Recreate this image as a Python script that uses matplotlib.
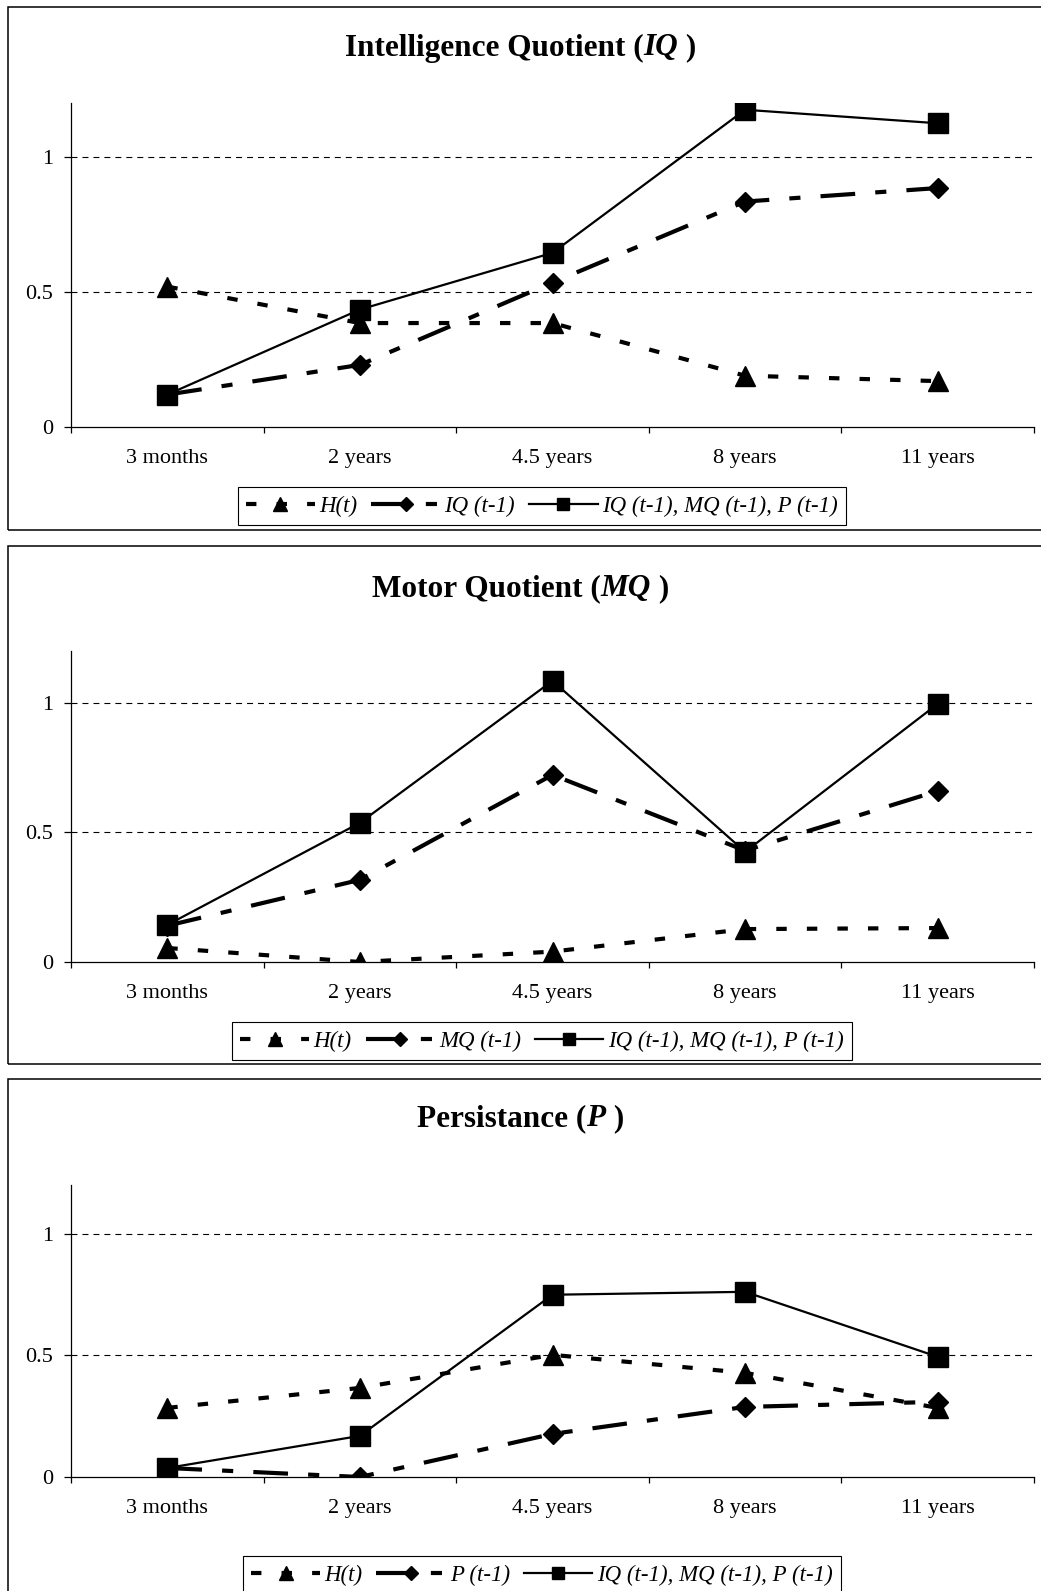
import matplotlib
matplotlib.use("Agg")
import matplotlib.pyplot as plt
from matplotlib.patches import Rectangle
from matplotlib.lines import Line2D
from matplotlib.font_manager import FontProperties

# -----------------------------
# DADOS
# -----------------------------
categories = ["3 months", "2 years", "4.5 years", "8 years", "11 years"]

iq_h = [0.52, 0.385, 0.385, 0.19, 0.17]
iq_lag = [0.12, 0.23, 0.535, 0.835, 0.885]
iq_full = [0.12, 0.435, 0.645, 1.175, 1.125]

mq_h = [0.054, 0.0, 0.04, 0.127, 0.131]
mq_lag = [0.14, 0.317, 0.722, 0.43, 0.66]
mq_full = [0.143, 0.537, 1.085, 0.425, 0.996]

p_h = [0.284, 0.366, 0.502, 0.428, 0.284]
p_lag = [0.037, 0.0, 0.177, 0.288, 0.309]
p_full = [0.037, 0.169, 0.749, 0.761, 0.494]

y_ticks = [0, 0.5, 1]
y_tick_labels = ["0", "0.5", "1"]

lbl_h = "H(t)"
lbl_full = "IQ (t-1), MQ (t-1), P (t-1)"

# -----------------------------
# ESTILO
# -----------------------------
plt.rcParams["font.family"] = ["Liberation Serif", "DejaVu Serif"]
plt.rcParams["lines.scale_dashes"] = False

W, H = 1041, 1591
fig = plt.figure(figsize=(W / 100, H / 100), dpi=100)
fig.patch.set_facecolor("white")

dash_h = (0, (7.5, 14.5))
dash_lag = (0, (25, 14.5, 8, 14.5))
legend_font = FontProperties(family="Liberation Serif", style="italic", size=16.5)


def fx(px):
    return px / W


def fy(px):
    return 1 - px / H


def painel(box_top, box_bot, title_y, ax_top, ax_bot, leg_y,
           title_parts, h, lag, full, lag_label):
    # moldura do painel
    fig.add_artist(Rectangle((fx(8), fy(box_bot)), fx(1100), fy(box_top) - fy(box_bot),
                             transform=fig.transFigure, fill=False,
                             edgecolor="black", linewidth=1.1, clip_on=False))

    ax = fig.add_axes([fx(71), fy(ax_bot), fx(1034) - fx(71), fy(ax_top) - fy(ax_bot)])
    x = list(range(len(categories)))

    ax.axhline(0.5, color="black", linewidth=0.8, linestyle=(0, (4.3, 3.6)), zorder=1)
    ax.axhline(1.0, color="black", linewidth=0.8, linestyle=(0, (4.3, 3.6)), zorder=1)

    ax.plot(x, h, color="black", linewidth=3.0, linestyle=dash_h,
            marker="^", markersize=15, zorder=3)
    ax.plot(x, lag, color="black", linewidth=3.0, linestyle=dash_lag,
            marker="D", markersize=10.5, zorder=4)
    ax.plot(x, full, color="black", linewidth=1.6, linestyle="-",
            marker="s", markersize=14, zorder=5)

    ax.set_xlim(-0.5, len(categories) - 0.5)
    ax.set_ylim(0, 1.2)

    for s in ["top", "right"]:
        ax.spines[s].set_visible(False)
    for s in ["left", "bottom"]:
        ax.spines[s].set_linewidth(0.9)

    ax.set_yticks(y_ticks)
    ax.set_yticklabels(y_tick_labels)
    ax.tick_params(axis="y", direction="out", length=5, width=0.9, pad=8, labelsize=16)

    ax.set_xticks(x)
    ax.set_xticklabels(categories)
    ax.tick_params(axis="x", which="major", length=0, pad=16, labelsize=16)
    ax.set_xticks([i - 0.5 for i in range(len(categories) + 1)], minor=True)
    ax.tick_params(axis="x", which="minor", direction="out", length=4.5, width=0.9)

    # titulo com parte em italico
    renderer = fig.canvas.get_renderer()
    txts = []
    for s, st in title_parts:
        t = fig.text(0, fy(title_y), s, fontsize=22.5, fontweight="bold", fontstyle=st,
                     va="center", ha="left")
        txts.append(t)
    larg = [t.get_window_extent(renderer).width for t in txts]
    pos = W / 2 - sum(larg) / 2
    for t, w in zip(txts, larg):
        t.set_x(fx(pos))
        pos += w

    # legenda
    handles = [
        Line2D([], [], color="black", linewidth=3.0, linestyle=dash_h, marker="^", markersize=10),
        Line2D([], [], color="black", linewidth=3.0, linestyle=dash_lag, marker="D", markersize=7),
        Line2D([], [], color="black", linewidth=1.6, linestyle="-", marker="s", markersize=9),
    ]
    leg = ax.legend(handles, [lbl_h, lag_label, lbl_full], loc="center",
                    bbox_to_anchor=(fx(542), fy(leg_y)), bbox_transform=fig.transFigure,
                    ncol=3, prop=legend_font, frameon=True, fancybox=False,
                    edgecolor="black", framealpha=1, handlelength=3.0,
                    handletextpad=0.2, columnspacing=0.6, borderpad=0.35,
                    borderaxespad=0)
    leg.get_frame().set_linewidth(0.8)
    return ax


painel(7, 530, 48, 103, 427, 506,
       [("Intelligence Quotient (", "normal"), ("IQ", "italic"), (" )", "normal")],
       iq_h, iq_lag, iq_full, "IQ (t-1)")

painel(546, 1064, 589, 651, 962, 1041,
       [("Motor Quotient (", "normal"), ("MQ", "italic"), (" )", "normal")],
       mq_h, mq_lag, mq_full, "MQ (t-1)")

painel(1079, 1640, 1119, 1185, 1477, 1575,
       [("Persistance (", "normal"), ("P", "italic"), (" )", "normal")],
       p_h, p_lag, p_full, "P (t-1)")

fig.savefig("out.png", dpi=100)
